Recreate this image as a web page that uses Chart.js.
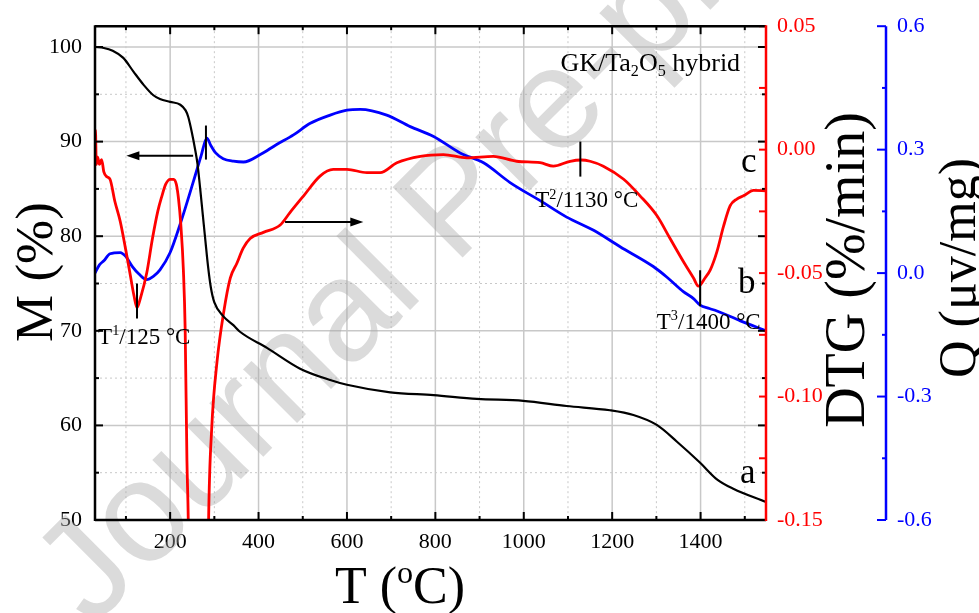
<!DOCTYPE html>
<html>
<head>
<meta charset="utf-8">
<script src="https://cdn.jsdelivr.net/npm/chart.js@4.4.0/dist/chart.umd.min.js"></script>
<style>
  html, body { margin: 0; padding: 0; background: #fff; }
  #wrap { width: 979px; height: 613px; }
</style>
</head>
<body>
<div id="wrap"><canvas id="chart" width="979" height="613"></canvas></div>
<script>
// --- curve a: mass M (%) ---
const tempM = [30, 50, 70, 94, 117, 140, 162, 177, 200, 223, 235, 241, 249, 256, 262, 268, 274, 280, 286, 292, 300, 321, 343, 358, 419, 494, 562, 600, 698, 796, 894, 999, 1097, 1195, 1248, 1301, 1346, 1399, 1437, 1474, 1548];
const massM = [100, 99.9, 99.6, 98.85, 97.4, 96.0, 94.9, 94.5, 94.2, 93.9, 93.3, 92.6, 91.0, 89.3, 87.6, 85.0, 82.2, 79.4, 76.7, 74.6, 73.0, 71.5, 70.6, 69.9, 68.2, 66.0, 64.8, 64.3, 63.5, 63.2, 62.8, 62.6, 62.05, 61.6, 61.1, 60.05, 58.3, 56.05, 54.3, 53.3, 51.9];

// --- curve c: DTG (%/min) ---
const tempDtg = [30, 31, 33, 36, 40, 45, 50, 57, 64, 75, 87, 100, 110, 118, 125, 133, 147, 160, 172, 181, 190, 200, 208, 214, 219, 224, 230, 234, 238, 241, 244, 284, 287, 294, 306, 321, 336, 351, 365, 381, 411, 449, 471, 502, 539, 569, 600, 645, 675, 713, 766, 818, 871, 931, 984, 1037, 1067, 1105, 1130, 1150, 1180, 1226, 1263, 1301, 1331, 1361, 1384, 1395, 1410, 1422, 1437, 1452, 1467, 1482, 1497, 1520, 1548];
const dtgVals = [-0.002, 0.008, -0.006, -0.003, -0.006, -0.004, -0.009, -0.011, -0.012, -0.021, -0.029, -0.041, -0.051, -0.059, -0.064, -0.060, -0.050, -0.036, -0.025, -0.019, -0.014, -0.012, -0.012, -0.014, -0.020, -0.030, -0.049, -0.073, -0.126, -0.15, -0.2, -0.2, -0.15, -0.113, -0.086, -0.066, -0.052, -0.046, -0.040, -0.036, -0.0335, -0.0305, -0.0255, -0.0187, -0.0107, -0.008, -0.008, -0.0093, -0.0093, -0.0053, -0.0027, -0.002, -0.0033, -0.0027, -0.0047, -0.0053, -0.0067, -0.0047, -0.0042, -0.0047, -0.0067, -0.012, -0.0187, -0.0267, -0.036, -0.0453, -0.052, -0.0553, -0.052, -0.0487, -0.0413, -0.031, -0.0227, -0.020, -0.0187, -0.0165, -0.0167];

// --- curve b: heat flow Q (uv/mg) ---
const tempQ = [30, 40, 50, 64, 87, 100, 115, 130, 147, 162, 177, 200, 223, 253, 270, 283, 292, 303, 320, 343, 366, 404, 440, 479, 517, 562, 600, 630, 690, 743, 796, 856, 909, 969, 1037, 1097, 1158, 1218, 1293, 1324, 1361, 1384, 1399, 1420, 1437, 1490, 1548];
const qVals = [0.0, 0.02, 0.03, 0.047, 0.05, 0.04, 0.015, -0.003, -0.016, -0.008, 0.008, 0.05, 0.12, 0.224, 0.285, 0.328, 0.31, 0.292, 0.278, 0.272, 0.27, 0.288, 0.312, 0.336, 0.364, 0.384, 0.396, 0.398, 0.384, 0.356, 0.332, 0.292, 0.268, 0.22, 0.176, 0.136, 0.104, 0.064, 0.016, -0.01, -0.045, -0.062, -0.078, -0.086, -0.092, -0.116, -0.14];

const SERIF = '"Liberation Serif", "Times New Roman", serif';
const GRID = '#c8c8c8';

function toXY(xs, ys) {
    return xs.map((x, i) => ({ x: x, y: ys[i] }));
}

function seg(ctx, x1, y1, x2, y2) {
    ctx.beginPath();
    ctx.moveTo(x1, y1);
    ctx.lineTo(x2, y2);
    ctx.stroke();
}

// text made of pieces, some raised or lowered: [['T'], ['2', 'sup'], ['/1130 °C']]
function richWidth(ctx, parts, size) {
    let w = 0;
    parts.forEach(p => {
        ctx.font = (p[1] ? size * 0.62 : size) + 'px ' + SERIF;
        w += ctx.measureText(p[0]).width;
    });
    return w;
}

function drawRich(ctx, x, y, parts, size, align) {
    let cx = align === 'center' ? x - richWidth(ctx, parts, size) / 2 : x;
    parts.forEach(p => {
        ctx.font = (p[1] ? size * 0.62 : size) + 'px ' + SERIF;
        const dy = p[1] === 'sup' ? -size * 0.38 : (p[1] === 'sub' ? size * 0.2 : 0);
        ctx.fillText(p[0], cx, y + dy);
        cx += ctx.measureText(p[0]).width;
    });
}

function arrow(ctx, x1, y, x2) {
    const dir = x2 > x1 ? 1 : -1;
    seg(ctx, x1, y, x2 - dir * 8, y);
    ctx.beginPath();
    ctx.moveTo(x2, y);
    ctx.lineTo(x2 - dir * 13, y - 4.5);
    ctx.lineTo(x2 - dir * 13, y + 4.5);
    ctx.closePath();
    ctx.fill();
}

function vTitle(ctx, x, y, text, size) {
    ctx.save();
    ctx.translate(x, y);
    ctx.rotate(-Math.PI / 2);
    drawRich(ctx, 0, 0, [[text]], size, 'center');
    ctx.restore();
}

const decorPlugin = {
    id: 'decor',
    beforeDatasetsDraw(chart) {
        const { ctx, chartArea: a, scales } = chart;
        const sx = scales.x, sy = scales.y;
        ctx.save();
        ctx.strokeStyle = GRID;
        // vertical grid
        for (let t = 100; t <= 1500; t += 100) {
            const px = sx.getPixelForValue(t);
            if (t % 200 === 0) { ctx.setLineDash([]); ctx.lineWidth = 1.5; }
            else { ctx.setLineDash([2, 3]); ctx.lineWidth = 1; }
            seg(ctx, px, a.top, px, a.bottom);
        }
        // horizontal grid
        for (let m = 55; m <= 100; m += 5) {
            const py = sy.getPixelForValue(m);
            if (m % 10 === 0) { ctx.setLineDash([]); ctx.lineWidth = 1.5; }
            else { ctx.setLineDash([2, 3]); ctx.lineWidth = 1; }
            seg(ctx, a.left, py, a.right, py);
        }
        ctx.setLineDash([]);

        // watermark
        ctx.translate(92, 628);
        ctx.rotate(-45 * Math.PI / 180);
        ctx.font = '144px "Liberation Sans", Arial, sans-serif';
        ctx.fillStyle = 'rgba(165,165,165,0.4)';
        ctx.fillText('Journal Pre-proof', 0, 0);
        ctx.restore();
    },
    afterDatasetsDraw(chart) {
        const { ctx, chartArea: a, scales } = chart;
        const sx = scales.x, sy = scales.y, sr = scales.y1, sb = scales.y2;
        const X = v => sx.getPixelForValue(v);
        const Y = v => sy.getPixelForValue(v);
        ctx.save();
        ctx.lineCap = 'butt';

        // ticks, black, pointing inside
        ctx.strokeStyle = '#000';
        ctx.lineWidth = 2;
        for (let t = 100; t <= 1500; t += 100) {
            const len = t % 200 === 0 ? 8 : 4;
            seg(ctx, X(t), a.top, X(t), a.top + len);
            seg(ctx, X(t), a.bottom, X(t), a.bottom - len);
        }
        for (let m = 55; m <= 100; m += 5) {
            const len = m % 10 === 0 ? 8 : 4;
            seg(ctx, a.left, Y(m), a.left + len, Y(m));
            seg(ctx, a.right, Y(m), a.right - len, Y(m));
        }
        // DTG ticks
        ctx.strokeStyle = '#ff0000';
        for (let k = 0; k <= 8; k++) {
            const py = sr.getPixelForValue(-0.15 + k * 0.025);
            seg(ctx, a.right, py, a.right - 7, py);
        }
        // Q axis
        ctx.strokeStyle = '#0000ff';
        ctx.lineWidth = 2.5;
        seg(ctx, sb.left, a.top, sb.left, a.bottom);
        ctx.lineWidth = 2;
        for (let k = 0; k <= 8; k++) {
            const py = sb.getPixelForValue(-0.6 + k * 0.15);
            const len = k % 2 === 0 ? 9 : 4;
            seg(ctx, sb.left, py, sb.left - len, py);
        }

        // frame
        ctx.lineWidth = 2.5;
        ctx.strokeStyle = '#000';
        seg(ctx, a.left, a.top, a.right, a.top);
        seg(ctx, a.left, a.bottom, a.right, a.bottom);
        seg(ctx, a.left, a.top - 1, a.left, a.bottom + 1);
        ctx.strokeStyle = '#ff0000';
        seg(ctx, a.right, a.top - 1, a.right, a.bottom + 1);

        // arrows and markers
        ctx.strokeStyle = '#000';
        ctx.fillStyle = '#000';
        ctx.lineWidth = 2;
        arrow(ctx, X(252), Y(88.5), X(101));
        arrow(ctx, X(460), Y(81.5), X(637));
        seg(ctx, X(125), Y(75.0), X(125), Y(71.3));
        seg(ctx, X(281), Y(91.7), X(281), Y(88.1));
        seg(ctx, X(1128), Y(90.0), X(1128), Y(86.3));
        seg(ctx, X(1399), Y(76.4), X(1399), Y(72.6));

        // annotations
        ctx.textBaseline = 'alphabetic';
        ctx.textAlign = 'left';
        drawRich(ctx, X(37), Y(68.65), [['T'], ['1', 'sup'], ['/125 °C']], 23);
        drawRich(ctx, X(1026), Y(83.06), [['T'], ['2', 'sup'], ['/1130 °C']], 23);
        drawRich(ctx, X(1301), Y(70.2), [['T'], ['3', 'sup'], ['/1400 °C']], 23);
        drawRich(ctx, X(1083), Y(97.46), [['GK/Ta'], ['2', 'sub'], ['O'], ['5', 'sub'], [' hybrid']], 26);
        ctx.font = '35px ' + SERIF;
        ctx.fillText('c', 741, 172);
        ctx.fillText('b', 738, 293);
        ctx.fillText('a', 740, 483);

        // axis titles
        drawRich(ctx, 400, 603, [['T ('], ['o', 'sup'], ['C)']], 52, 'center');
        vTitle(ctx, 52, 272, 'M (%)', 53);
        vTitle(ctx, 864, 270, 'DTG (%/min)', 56);
        vTitle(ctx, 975, 268, 'Q (μv/mg)', 52);

        ctx.restore();
    }
};

function lineSet(label, xs, ys, color, axis, width) {
    return {
        label: label,
        data: toXY(xs, ys),
        yAxisID: axis,
        borderColor: color,
        borderWidth: width,
        pointRadius: 0,
        fill: false,
        cubicInterpolationMode: 'monotone'
    };
}

function tickFont() {
    return { family: SERIF, size: 22 };
}

new Chart(document.getElementById('chart'), {
    type: 'line',
    data: {
        datasets: [
            lineSet('a', tempM, massM, '#000000', 'y', 2.2),
            lineSet('c', tempDtg, dtgVals, '#ff0000', 'y1', 2.8),
            lineSet('b', tempQ, qVals, '#0000ff', 'y2', 2.8)
        ]
    },
    options: {
        responsive: false,
        animation: false,
        devicePixelRatio: 1,
        layout: { padding: { top: 21, left: 0, right: 0, bottom: 0 } },
        plugins: { legend: { display: false }, tooltip: { enabled: false } },
        scales: {
            x: {
                type: 'linear', min: 30, max: 1548,
                grid: { display: false, drawTicks: false }, border: { display: false },
                ticks: { stepSize: 200, includeBounds: false, autoSkip: false, maxRotation: 0, color: '#000', font: tickFont(), padding: 9, callback: (v) => String(v) },
                afterFit: (s) => { s.height = 93; }
            },
            y: {
                position: 'left', min: 50, max: 102.2,
                grid: { display: false, drawTicks: false }, border: { display: false },
                ticks: { stepSize: 10, includeBounds: false, autoSkip: false, color: '#000', font: tickFont(), padding: 13 },
                afterFit: (s) => { s.width = 95; }
            },
            y1: {
                position: 'right', min: -0.15, max: 0.05,
                grid: { display: false, drawTicks: false }, border: { display: false },
                ticks: { stepSize: 0.05, autoSkip: false, color: '#ff0000', font: tickFont(), padding: 11, callback: (v) => v.toFixed(2) },
                afterFit: (s) => { s.width = 120; }
            },
            y2: {
                position: 'right', min: -0.6, max: 0.6,
                grid: { display: false, drawTicks: false }, border: { display: false },
                ticks: { stepSize: 0.3, autoSkip: false, color: '#0000ff', font: tickFont(), padding: 11, callback: (v) => v.toFixed(1) },
                afterFit: (s) => { s.width = 93; }
            }
        }
    },
    plugins: [decorPlugin]
});
</script>
</body>
</html>
